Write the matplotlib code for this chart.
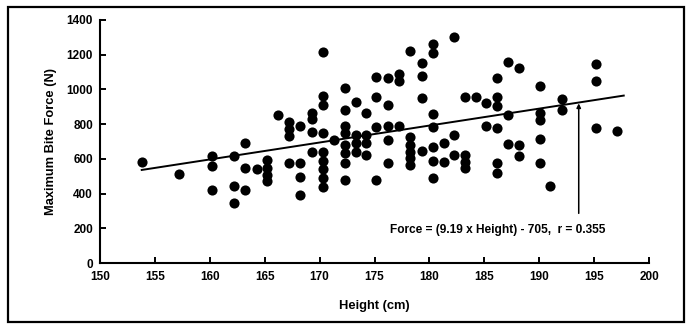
import numpy as np
import matplotlib
matplotlib.use("Agg")
import matplotlib.pyplot as plt
from matplotlib.patches import Rectangle

plt.rcParams['font.family'] = ['Liberation Sans', 'DejaVu Sans']
plt.rcParams['font.weight'] = 'bold'

# Heights (cm) and bite forces (N)
heights = [153.8, 157.2,
           160.2, 160.2, 160.2,
           162.2, 162.2, 162.2,
           163.2, 163.2, 163.2,
           164.3,
           165.2, 165.2, 165.2, 165.2,
           166.2,
           167.2, 167.2, 167.2, 167.2,
           168.2, 168.2, 168.2, 168.2,
           169.3, 169.3, 169.3, 169.3,
           170.3, 170.3, 170.3, 170.3, 170.3, 170.3, 170.3, 170.3, 170.3,
           171.3,
           172.3, 172.3, 172.3, 172.3, 172.3, 172.3, 172.3, 172.3,
           173.3, 173.3, 173.3, 173.3,
           174.2, 174.2, 174.2, 174.2,
           175.1, 175.1, 175.1, 175.1,
           176.2, 176.2, 176.2, 176.2, 176.2,
           177.2, 177.2, 177.2,
           178.2, 178.2, 178.2, 178.2, 178.2, 178.2,
           179.3, 179.3, 179.3, 179.3,
           180.3, 180.3, 180.3, 180.3, 180.3, 180.3, 180.3,
           181.3, 181.3,
           182.2, 182.2, 182.2,
           183.2, 183.2, 183.2, 183.2,
           184.2,
           185.2, 185.2,
           186.2, 186.2, 186.2, 186.2, 186.2, 186.2,
           187.2, 187.2, 187.2,
           188.2, 188.2, 188.2,
           190.1, 190.1, 190.1, 190.1, 190.1,
           191.0,
           192.1, 192.1,
           195.2, 195.2, 195.2,
           197.1]
forces = [584, 512,
          617, 559, 421,
          617, 444, 344,
          690, 546, 423,
          540,
          594, 546, 507, 474,
          853,
          812, 772, 733, 578,
          790, 578, 494, 394,
          863, 830, 757, 641,
          1218, 961, 911, 748, 641, 590, 540, 490, 440,
          709,
          1007, 882, 790, 748, 680, 632, 578, 478,
          930, 738, 690, 641,
          866, 735, 690, 622,
          1072, 958, 785, 480,
          1068, 911, 790, 709, 578,
          1088, 1050, 790,
          1224, 728, 680, 641, 603, 565,
          1155, 1080, 951, 646,
          1263, 1212, 857, 786, 670, 590, 490,
          690, 584,
          1301, 738, 622,
          959, 622, 584, 546,
          959,
          920, 790,
          1064, 959, 905, 776, 575, 517,
          1160, 853, 686,
          1122, 680, 617,
          1020, 863, 824, 713, 575,
          444,
          943, 882,
          1145, 1049, 780,
          761]

# Regression line as drawn
fit_slope = 9.76
fit_intercept = -965
fit_x = [153.8, 197.7]
equation = "Force = (9.19 x Height) - 705,  r = 0.355"
arrow_x = 193.6
arrow_base = 286

fig = plt.figure(figsize=(6.91, 3.27), dpi=100)
ax = fig.add_axes([100 / 691, 1 - 263 / 327, 549 / 691, 243 / 327])

ax.plot(heights, forces, 'o', color='k', markersize=7.3, markeredgewidth=0)

fx = np.array(fit_x)
ax.plot(fx, fit_slope * fx + fit_intercept, 'k-', linewidth=1.4)

# Arrow from the equation up to the line
ax.annotate("", xy=(arrow_x, fit_slope * arrow_x + fit_intercept - 5),
            xytext=(arrow_x, arrow_base),
            arrowprops=dict(arrowstyle='-|>', color='k', lw=1.1,
                            mutation_scale=6, shrinkA=0, shrinkB=0))
ax.text(186.2, 190, equation, ha='center', va='center', fontsize=8.6,
        fontweight='bold')

ax.set_xlim(150, 200)
ax.set_ylim(0, 1400)
ax.set_xticks(np.arange(150, 201, 5))
ax.set_yticks(np.arange(0, 1401, 200))
ax.tick_params(direction='in', length=4.5, width=1.4, labelsize=8.5, pad=6)
ax.tick_params(axis='y', pad=5)
for lab in ax.get_xticklabels() + ax.get_yticklabels():
    lab.set_fontweight('bold')

for s in ['top', 'right']:
    ax.spines[s].set_visible(False)
for s in ['left', 'bottom']:
    ax.spines[s].set_linewidth(1.5)

ax.set_xlabel("Height (cm)", fontsize=9.3, fontweight='bold')
ax.set_ylabel("Maximum Bite Force (N)", fontsize=9.3, fontweight='bold')
ax.xaxis.set_label_coords(0.5, -0.152)
ax.yaxis.set_label_coords(-0.078, 0.5)

# Outer frame around the whole figure
fig.add_artist(Rectangle((8 / 691, 5 / 327), 676 / 691, 315 / 327,
                         transform=fig.transFigure, fill=False,
                         edgecolor='k', linewidth=1.6))

fig.savefig("out.png", dpi=100)
